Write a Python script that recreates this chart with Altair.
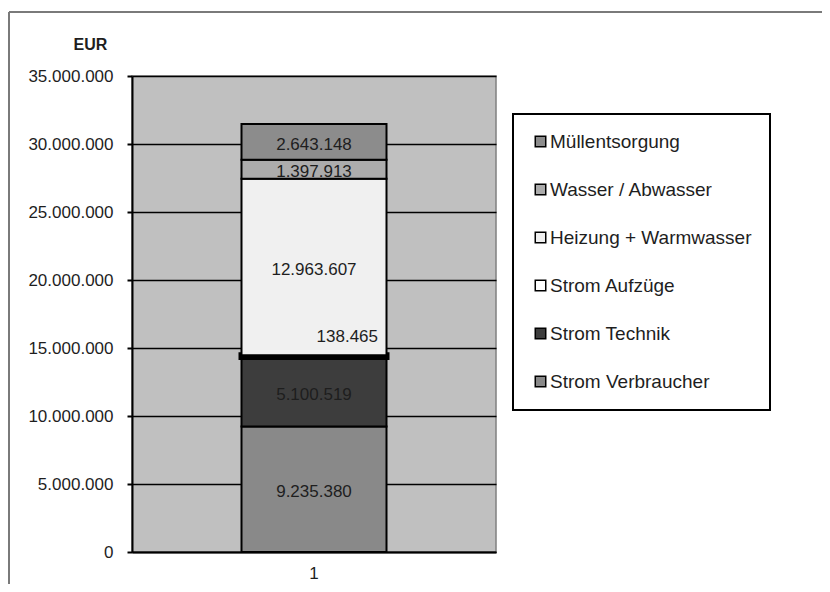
import altair as alt
import pandas as pd

categories = ["Strom Verbraucher", "Strom Technik", "Strom Aufzüge",
              "Heizung + Warmwasser", "Wasser / Abwasser", "Müllentsorgung"]
values = [9235380, 5100519, 138465, 12963607, 1397913, 2643148]
x_labels = ["1", "1", "1", "1", "1", "1"]
stack_order = [1, 2, 3, 4, 5, 6]
legend_order = ["Müllentsorgung", "Wasser / Abwasser", "Heizung + Warmwasser",
                "Strom Aufzüge", "Strom Technik", "Strom Verbraucher"]
legend_colors = ["#8c8c8c", "#acacac", "#f0f0f0", "#ffffff", "#3d3d3d", "#898989"]
y_ticks = [0, 5000000, 10000000, 15000000, 20000000, 25000000, 30000000, 35000000]


def fmt(v):
    return f"{v:,}".replace(",", ".")


df = pd.DataFrame({
    "cat": categories,
    "value": values,
    "x": x_labels,
    "ord": stack_order,
    "label": [fmt(v) for v in values],
})

FONT = "Liberation Sans"
TXT = "#1e1e1e"

base = alt.Chart(df).transform_stack(
    stack="value", groupby=["x"], as_=["v0", "v1"],
    sort=[alt.SortField("ord", order="ascending")]
).transform_calculate(mid="(datum.v0 + datum.v1) / 2")

yscale = alt.Scale(domain=[0, 35000000], nice=False)

bars = base.mark_bar(size=145, stroke="black").encode(
    x=alt.X("x:N", title=None, axis=alt.Axis(
        labelAngle=0, ticks=False, tickSize=0, labelPadding=13, labelFontSize=17,
        labelFont=FONT, labelColor=TXT, domainColor="black", domainWidth=2, grid=False)),
    y=alt.Y("v0:Q", scale=yscale, title="EUR", axis=alt.Axis(
        values=y_ticks,
        labelExpr="replace(format(datum.value, ','), /,/g, '.')",
        titleAngle=0, titleX=-42, titleY=-32, titleAlign="center", titleBaseline="middle",
        titleFont=FONT, titleFontWeight="bold", titleFontSize=16, titleColor=TXT,
        labelFontSize=17, labelFont=FONT, labelColor=TXT, labelPadding=14,
        tickSize=5, tickColor="black", tickWidth=2,
        domainColor="black", domainWidth=2,
        gridColor="black", gridWidth=1.5)),
    y2="v1:Q",
    color=alt.Color("cat:N", scale=alt.Scale(domain=legend_order, range=legend_colors),
                    title=None,
                    legend=alt.Legend(orient="none", legendX=381, legendY=38,
                                      symbolType="square", symbolSize=110,
                                      symbolStrokeColor="black", symbolStrokeWidth=1.5,
                                      labelFontSize=19, labelFont=FONT, labelColor=TXT,
                                      labelLimit=400,
                                      rowPadding=28, padding=18, strokeColor="black",
                                      fillColor="white", labelOffset=0)),
    strokeWidth=alt.condition(alt.datum.cat == "Strom Aufzüge", alt.value(6), alt.value(2)),
)

labels = base.transform_filter(alt.datum.cat != "Strom Aufzüge").mark_text(
    font=FONT, fontSize=17, color=TXT, baseline="middle", dy=3
).encode(
    x=alt.X("x:N", title=None),
    y=alt.Y("mid:Q", scale=yscale, title="EUR"),
    text="label:N",
)

aufz = base.transform_filter(alt.datum.cat == "Strom Aufzüge").mark_text(
    font=FONT, fontSize=17, color=TXT, baseline="middle", align="right", dx=64, dy=-18
).encode(
    x=alt.X("x:N", title=None),
    y=alt.Y("v1:Q", scale=yscale, title="EUR"),
    text="label:N",
)

frame_df = pd.DataFrame({"k": [0]})
top_rule = alt.Chart(frame_df).mark_rule(color="#7a7a7a", strokeWidth=2).encode(
    x=alt.value(-123), x2=alt.value(700), y=alt.value(-64))
left_rule = alt.Chart(frame_df).mark_rule(color="#7a7a7a", strokeWidth=2).encode(
    x=alt.value(-123), y=alt.value(-64), y2=alt.value(520))

chart = alt.layer(bars, labels, aufz, top_rule, left_rule).properties(
    width=364, height=476,
    autosize=alt.AutoSizeParams(type="none"),
    padding={"left": 124, "top": 68, "right": 326, "bottom": 32},
    background="white",
).configure_view(
    fill="#c0c0c0", stroke="#808080", strokeWidth=1.5
).configure_legend(
    strokeWidth=2
)

chart.save("out.html", embed_options={"renderer": "svg", "actions": False})
